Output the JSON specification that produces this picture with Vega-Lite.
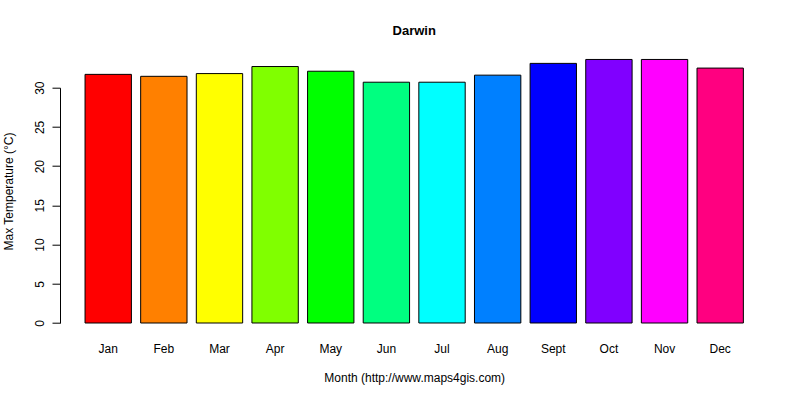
{
  "$schema": "https://vega.github.io/schema/vega-lite/v6.json",
  "width": 667.6,
  "height": 235.3,
  "autosize": {"type": "none"},
  "padding": {"left": 80.4, "top": 87.7, "right": 52, "bottom": 77},
  "background": "#ffffff",
  "title": {
    "text": "Darwin",
    "font": "Liberation Sans",
    "fontSize": 13,
    "fontWeight": "bold",
    "color": "#000000",
    "anchor": "middle",
    "offset": 21
  },
  "config": {
    "view": {"stroke": null},
    "font": "Liberation Sans"
  },
  "data": {
    "values": [
      {"month": "Jan", "temp": 31.7},
      {"month": "Feb", "temp": 31.45},
      {"month": "Mar", "temp": 31.8},
      {"month": "Apr", "temp": 32.7},
      {"month": "May", "temp": 32.1},
      {"month": "Jun", "temp": 30.7},
      {"month": "Jul", "temp": 30.7},
      {"month": "Aug", "temp": 31.6},
      {"month": "Sept", "temp": 33.1},
      {"month": "Oct", "temp": 33.6},
      {"month": "Nov", "temp": 33.6},
      {"month": "Dec", "temp": 32.5}
    ]
  },
  "mark": {"type": "bar", "stroke": "#000000", "strokeWidth": 1, "clip": false},
  "encoding": {
    "x": {
      "field": "month",
      "type": "nominal",
      "sort": null,
      "scale": {"paddingInner": 0.1667, "paddingOuter": 0.0833},
      "axis": {
        "title": "Month (http://www.maps4gis.com)",
        "titleFont": "Liberation Sans",
        "titleFontSize": 12,
        "titleFontWeight": "normal",
        "titleColor": "#000000",
        "titlePadding": 18,
        "labelFont": "Liberation Sans",
        "labelFontSize": 12,
        "labelColor": "#000000",
        "labelAngle": 0,
        "labelPadding": 20,
        "domain": false,
        "ticks": false,
        "grid": false
      }
    },
    "y": {
      "field": "temp",
      "type": "quantitative",
      "scale": {"domain": [0, 30], "nice": false, "zero": true},
      "axis": {
        "title": "Max Temperature (°C)",
        "titleFont": "Liberation Sans",
        "titleFontSize": 12,
        "titleFontWeight": "normal",
        "titleColor": "#000000",
        "titleY": 103.3,
        "titleX": -52,
        "titleAngle": -90,
        "titleAlign": "center",
        "titleBaseline": "middle",
        "values": [0, 5, 10, 15, 20, 25, 30],
        "offset": 20.4,
        "tickSize": 8,
        "tickColor": "#000000",
        "domainColor": "#000000",
        "labelFont": "Liberation Sans",
        "labelFontSize": 12,
        "labelColor": "#000000",
        "labelAngle": -90,
        "labelAlign": "center",
        "labelBaseline": "bottom",
        "labelPadding": 6,
        "grid": false
      }
    },
    "color": {
      "field": "month",
      "type": "nominal",
      "sort": null,
      "legend": null,
      "scale": {
        "domain": ["Jan", "Feb", "Mar", "Apr", "May", "Jun", "Jul", "Aug", "Sept", "Oct", "Nov", "Dec"],
        "range": ["#FF0000", "#FF8000", "#FFFF00", "#80FF00", "#00FF00", "#00FF80", "#00FFFF", "#0080FF", "#0000FF", "#8000FF", "#FF00FF", "#FF0080"]
      }
    }
  }
}
